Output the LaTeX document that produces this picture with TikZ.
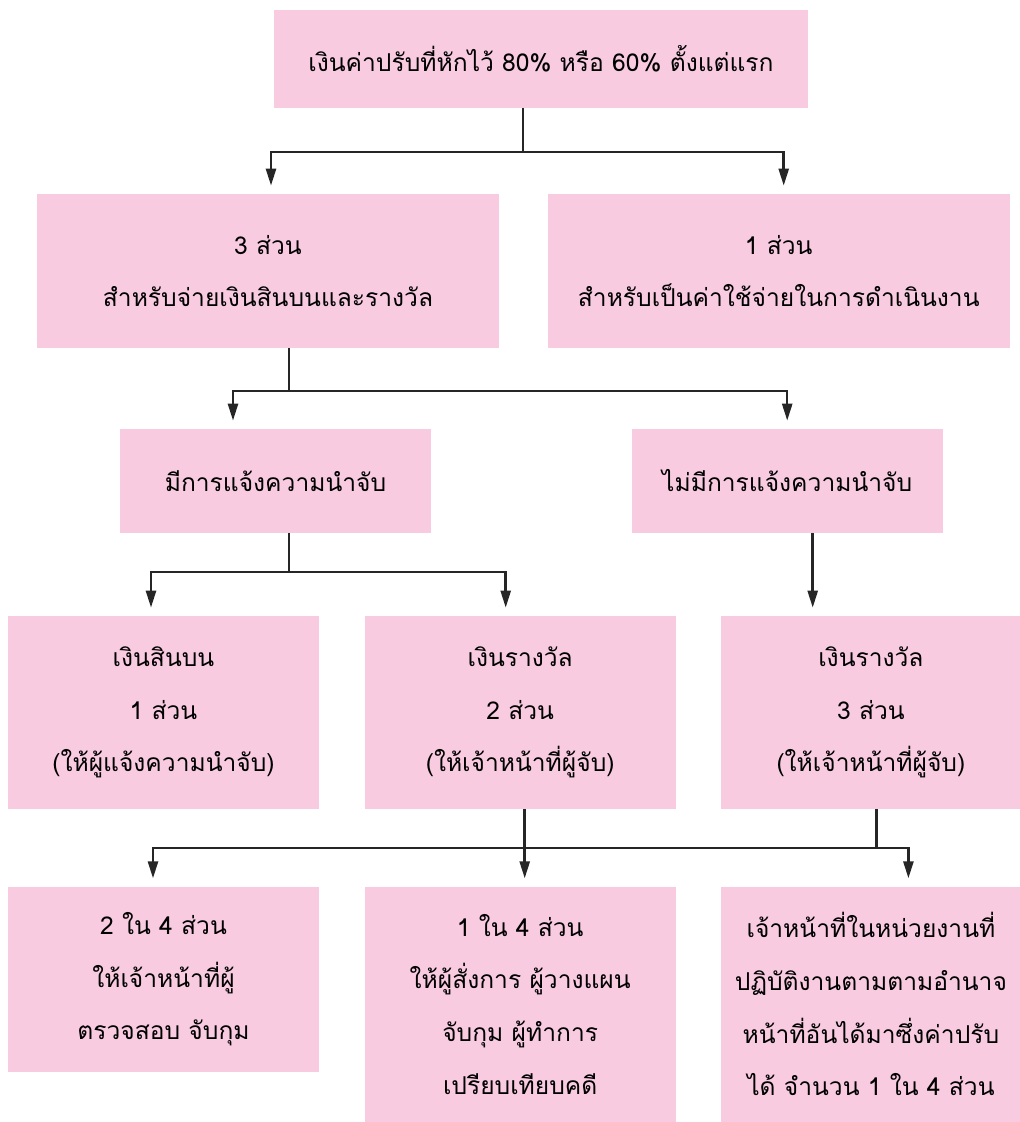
\documentclass[tikz,border=0pt]{standalone}
\usepackage{fontspec}
\newfontfamily\thaifont[Script=Thai]{Loma}
\usetikzlibrary{positioning,arrows.meta}
\definecolor{boxpink}{RGB}{248,203,224}
\begin{document}
\begin{tikzpicture}[node distance=0.9cm,
  box/.style={fill=boxpink,minimum width=6.22cm,align=center,inner sep=0pt,
    font=\thaifont\fontsize{14pt}{30pt}\selectfont},
  link/.style={line width=1.4pt,draw=black!85},
  arr/.style={-{Triangle[length=0.34cm,width=0.2cm]},shorten >=0.16cm}]
\useasboundingbox (0,0) rectangle (20.38,-22.44);
\node (top) [box,minimum width=10.68cm,minimum height=1.96cm] at (10.82,-1.18) {เงินค่าปรับที่หักไว้ 80\% หรือ 60\% ตั้งแต่แรก};
\node (pay) [box,minimum width=9.24cm,minimum height=3.08cm] at (5.36,-5.42) {3 ส่วน\\สำหรับจ่ายเงินสินบนและรางวัล};
\node (run) [box,minimum width=9.24cm,minimum height=3.08cm,right=0.96cm of pay] {1 ส่วน\\สำหรับเป็นค่าใช้จ่ายในการดำเนินงาน};
\node (tip) [box,minimum height=2.08cm] at (5.51,-9.62) {มีการแจ้งความนำจับ};
\node (notip) [box,minimum height=2.08cm,right=4cm of tip] {ไม่มีการแจ้งความนำจับ};
\node (bribe) [box,minimum height=3.86cm] at (3.27,-14.25) {เงินสินบน\\1 ส่วน\\(ให้ผู้แจ้งความนำจับ)};
\node (rewa) [box,minimum height=3.86cm,right=of bribe] {เงินรางวัล\\2 ส่วน\\(ให้เจ้าหน้าที่ผู้จับ)};
\node (rewb) [box,minimum width=5.98cm,minimum height=3.86cm,right=of rewa] {เงินรางวัล\\3 ส่วน\\(ให้เจ้าหน้าที่ผู้จับ)};
\node (catch) [box,minimum height=3.7cm,below=1.54cm of bribe] {2 ใน 4 ส่วน\\ให้เจ้าหน้าที่ผู้\\ตรวจสอบ จับกุม};
\node (plan) [box,minimum height=4.7cm,below=1.54cm of rewa] {1 ใน 4 ส่วน\\ให้ผู้สั่งการ ผู้วางแผน\\จับกุม ผู้ทำการ\\เปรียบเทียบคดี};
\node (unit) [box,minimum width=5.98cm,minimum height=4.7cm,below=1.54cm of rewb] {เจ้าหน้าที่ในหน่วยงานที่\\ปฏิบัติงานตามตามอำนาจ\\หน้าที่อันได้มาซึ่งค่าปรับ\\ได้ จำนวน 1 ใน 4 ส่วน};
\coordinate (bus1) at (0,-3.04);
\coordinate (bus2) at (0,-7.82);
\coordinate (bus3) at (0,-11.44);
\coordinate (bus4) at (0,-16.96);
\draw[link,arr] ([xshift=-0.36cm]top.south) |- ([xshift=0.06cm]pay.north |- bus1) -- ([xshift=0.06cm]pay.north);
\draw[link,arr] ([xshift=-0.36cm]top.south) |- ([xshift=0.1cm]run.north |- bus1) -- ([xshift=0.1cm]run.north);
\draw[link,arr] ([xshift=0.42cm]pay.south) |- ([xshift=-0.85cm]tip.north |- bus2) -- ([xshift=-0.85cm]tip.north);
\draw[link,arr] ([xshift=0.42cm]pay.south) |- (notip.north |- bus2) -- (notip.north);
\draw[link,arr] ([xshift=0.27cm]tip.south) |- ([xshift=-0.25cm]bribe.north |- bus3) -- ([xshift=-0.25cm]bribe.north);
\draw[link,arr] ([xshift=0.27cm]tip.south) |- ([xshift=-0.29cm]rewa.north |- bus3) -- ([xshift=-0.29cm]rewa.north);
\draw[link,arr] ([xshift=0.51cm]notip.south) -- ([xshift=0.51cm]notip.south |- rewb.north);
\draw[link,arr] ([xshift=0.09cm]rewa.south) |- ([xshift=-0.21cm]catch.north |- bus4) -- ([xshift=-0.21cm]catch.north);
\draw[link,arr] ([xshift=0.09cm]rewa.south) -- ([xshift=0.09cm]plan.north);
\draw[link,arr] ([xshift=0.09cm]rewa.south) |- ([xshift=0.75cm]unit.north |- bus4) -- ([xshift=0.75cm]unit.north);
\draw[link] ([xshift=0.11cm]rewb.south) -- ([xshift=0.11cm]rewb.south |- bus4);
\end{tikzpicture}
\end{document}
